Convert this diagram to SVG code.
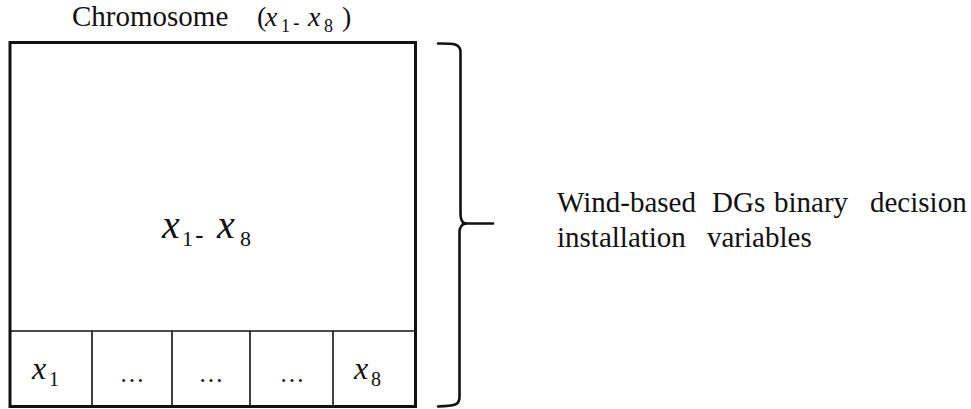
<svg xmlns="http://www.w3.org/2000/svg" width="971" height="409" viewBox="0 0 971 409">
<style>
text{font-family:'Liberation Serif','Times New Roman',serif;fill:#111}
.mi{font-style:italic}
.hy{font-family:'Liberation Sans',Arial,sans-serif;font-style:normal}
.thick{fill:none;stroke:#111;stroke-width:3}
.thin{fill:none;stroke:#111;stroke-width:1.6}
.br{fill:none;stroke:#111;stroke-width:2.6;stroke-linecap:round;stroke-linejoin:round}
</style>
<rect width="971" height="409" fill="#fff"/>
<g id="title">
<text font-size="28"><tspan x="72" y="26" font-size="29">Chromosome</tspan><tspan x="257" y="26">(</tspan><tspan class="mi" x="265" y="26">x</tspan><tspan x="281" y="32" font-size="18">1</tspan><tspan class="hy" x="293" y="30" font-size="20">-</tspan><tspan class="mi" x="308" y="26">x</tspan><tspan x="324" y="32" font-size="18">8</tspan><tspan x="342" y="26">)</tspan></text>
</g>
<g id="chromosome">
<rect class="thick" x="10" y="42.5" width="405.5" height="364"/>
<text font-size="40"><tspan class="mi" x="162" y="238">x</tspan><tspan x="182" y="246" font-size="22">1</tspan><tspan class="hy" x="195" y="244" font-size="26">-</tspan><tspan class="mi" x="217" y="238">x</tspan><tspan x="240" y="246" font-size="22">8</tspan></text>
</g>
<g id="cells">
<line class="thin" x1="10" y1="331" x2="415.5" y2="331"/>
<line class="thin" x1="92" y1="331" x2="92" y2="406.5"/>
<line class="thin" x1="172" y1="331" x2="172" y2="406.5"/>
<line class="thin" x1="250" y1="331" x2="250" y2="406.5"/>
<line class="thin" x1="333" y1="331" x2="333" y2="406.5"/>
<g id="cell1"><text font-size="32"><tspan class="mi" x="32" y="379">x</tspan><tspan x="49" y="386" font-size="20">1</tspan></text></g>
<g id="cell2"><text x="132" y="382" font-size="25" text-anchor="middle">…</text></g>
<g id="cell3"><text x="211" y="382" font-size="25" text-anchor="middle">…</text></g>
<g id="cell4"><text x="292" y="382" font-size="25" text-anchor="middle">…</text></g>
<g id="cell8"><text font-size="32"><tspan class="mi" x="354" y="379">x</tspan><tspan x="371" y="386" font-size="20">8</tspan></text></g>
</g>
<g id="connectors">
<path class="br" d="M438,43.5 C452,43.5 460.5,43 460.5,52 L460.5,214 C460.5,220 462,223 466,223.5 C461,224 459.5,228 459.5,233 L459.5,397 C459.5,405 455,406 438,406.5"/>
<line class="br" x1="463" y1="223.5" x2="493" y2="223.5"/>
</g>
<g id="label">
<text y="212" font-size="29"><tspan x="557">Wind-based</tspan><tspan x="712">DGs</tspan><tspan x="774">binary</tspan><tspan x="870">decision</tspan></text>
<text y="247" font-size="29"><tspan x="557">installation</tspan><tspan x="707">variables</tspan></text>
</g>
</svg>
